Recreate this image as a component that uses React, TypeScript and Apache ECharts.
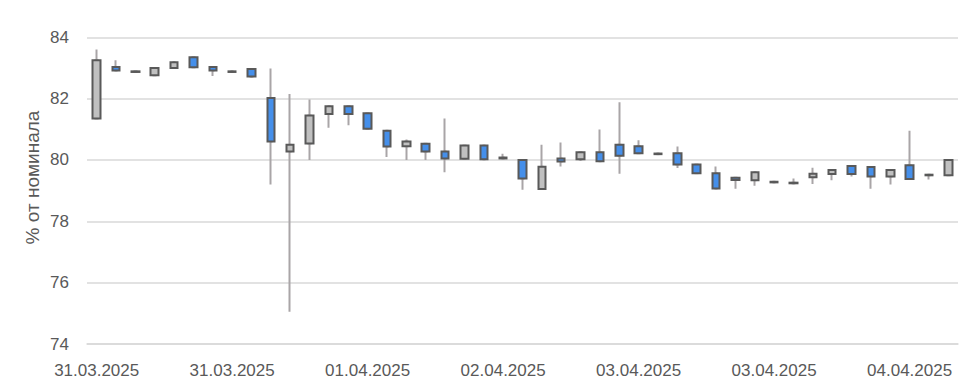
import React, { useEffect, useRef } from "react";
import * as echarts from "echarts";

const categories: string[] = [
  "31.03.2025", "31.03.2025", "31.03.2025", "31.03.2025", "31.03.2025", "31.03.2025", "31.03.2025",
  "31.03.2025", "31.03.2025", "31.03.2025", "31.03.2025", "31.03.2025", "31.03.2025", "31.03.2025",
  "01.04.2025", "01.04.2025", "01.04.2025", "01.04.2025", "01.04.2025", "01.04.2025", "01.04.2025",
  "02.04.2025", "02.04.2025", "02.04.2025", "02.04.2025", "02.04.2025", "02.04.2025", "02.04.2025",
  "03.04.2025", "03.04.2025", "03.04.2025", "03.04.2025", "03.04.2025", "03.04.2025", "03.04.2025",
  "03.04.2025", "03.04.2025", "03.04.2025", "03.04.2025", "03.04.2025", "03.04.2025", "03.04.2025",
  "04.04.2025", "04.04.2025", "04.04.2025",
];

const openValues: number[] = [
  81.35, 83.03, 82.89, 82.76, 83.0, 83.35, 83.03, 82.89, 82.97, 82.02,
  80.28, 80.54, 81.5, 81.75, 81.52, 80.95, 80.45, 80.53, 80.28, 80.04,
  80.47, 80.08, 80.0, 79.05, 80.05, 80.02, 80.25, 80.5, 80.45, 80.21,
  80.22, 79.85, 79.57, 79.42, 79.34, 79.29, 79.26, 79.44, 79.54, 79.8,
  79.77, 79.46, 79.83, 79.52, 79.5,
];
const closeValues: number[] = [
  83.25, 82.92, 82.87, 83.0, 83.19, 83.02, 82.92, 82.87, 82.72, 80.6,
  80.5, 81.45, 81.75, 81.5, 81.02, 80.44, 80.6, 80.28, 80.05, 80.47,
  80.02, 80.05, 79.4, 79.78, 79.95, 80.25, 79.96, 80.14, 80.22, 80.19,
  79.85, 79.57, 79.07, 79.35, 79.6, 79.27, 79.24, 79.55, 79.67, 79.54,
  79.46, 79.67, 79.38, 79.5, 80.0,
];
const lowValues: number[] = [
  81.35, 82.92, 82.87, 82.76, 83.0, 83.02, 82.74, 82.87, 82.68, 79.2,
  75.05, 80.0, 81.05, 81.13, 81.02, 80.1, 80.0, 80.0, 79.6, 80.04,
  80.02, 80.05, 79.03, 79.05, 79.79, 79.97, 79.96, 79.55, 80.22, 80.19,
  79.74, 79.57, 79.07, 79.06, 79.16, 79.27, 79.2, 79.22, 79.34, 79.46,
  79.06, 79.2, 79.38, 79.36, 79.5,
];
const highValues: number[] = [
  83.6, 83.25, 82.89, 83.0, 83.19, 83.35, 83.03, 82.89, 82.97, 82.98,
  82.15, 81.97, 81.77, 81.75, 81.52, 80.95, 80.67, 80.53, 81.35, 80.47,
  80.47, 80.2, 80.0, 80.5, 80.57, 80.25, 80.99, 81.88, 80.64, 80.21,
  80.44, 79.85, 79.79, 79.42, 79.6, 79.29, 79.4, 79.75, 79.67, 79.8,
  79.77, 79.67, 80.95, 79.52, 80.0,
];

const yMin = 74;
const yMax = 84;
const yStep = 2;
const yTitle = "% от номинала";

const TEXT = "#595959";
const GRID = "#d9d9d9";
const FONT = "Liberation Sans";

export default function App() {
  const ref = useRef<HTMLDivElement>(null);
  useEffect(() => {
    if (!ref.current) return;
    const chart = echarts.init(ref.current, undefined, { renderer: "svg" });
    const wickData = categories.map((_, i) => [openValues[i], closeValues[i], lowValues[i], highValues[i]]);
    const bodyData = categories.map((_, i) => [
      openValues[i],
      closeValues[i],
      Math.min(openValues[i], closeValues[i]),
      Math.max(openValues[i], closeValues[i]),
    ]);
    chart.setOption({
      animation: false,
      backgroundColor: "#ffffff",
      grid: { left: 87, right: 12, top: 37.3, bottom: 45, outerBoundsMode: "none", containLabel: false },
      xAxis: {
        type: "category",
        data: categories,
        boundaryGap: true,
        axisLine: { show: true, lineStyle: { color: GRID, width: 1.5 } },
        axisTick: { show: false },
        axisLabel: {
          interval: 6,
          color: TEXT,
          fontFamily: FONT,
          fontSize: 17,
          margin: 18,
        },
        splitLine: { show: false },
      },
      yAxis: {
        type: "value",
        min: yMin,
        max: yMax,
        interval: yStep,
        axisLine: { show: false },
        axisTick: { show: false },
        axisLabel: { color: TEXT, fontFamily: FONT, fontSize: 17, margin: 18 },
        splitLine: { show: true, lineStyle: { color: GRID, width: 1.5 } },
      },
      graphic: [
        {
          type: "text",
          x: 32,
          y: 177.5,
          rotation: Math.PI / 2,
          style: {
            text: yTitle,
            fill: TEXT,
            fontFamily: FONT,
            fontSize: 19,
            align: "center",
            verticalAlign: "middle",
          },
        },
      ],
      series: [
        {
          type: "candlestick",
          name: "wick",
          data: wickData,
          barWidth: 2,
          itemStyle: {
            color: "#a9a5a7",
            color0: "#a9a5a7",
            borderColor: "#a9a5a7",
            borderColor0: "#a9a5a7",
            borderWidth: 2,
          },
          z: 2,
        },
        {
          type: "candlestick",
          name: "body",
          data: bodyData,
          barWidth: 8,
          itemStyle: {
            color: "#c0c0c0",
            color0: "#458fea",
            borderColor: "#595959",
            borderColor0: "#595959",
            borderWidth: 2,
          },
          z: 3,
        },
      ],
    });
    return () => chart.dispose();
  }, []);
  return <div ref={ref} style={{ position: "fixed", left: 0, top: 0, width: 970, height: 389 }} />;
}
